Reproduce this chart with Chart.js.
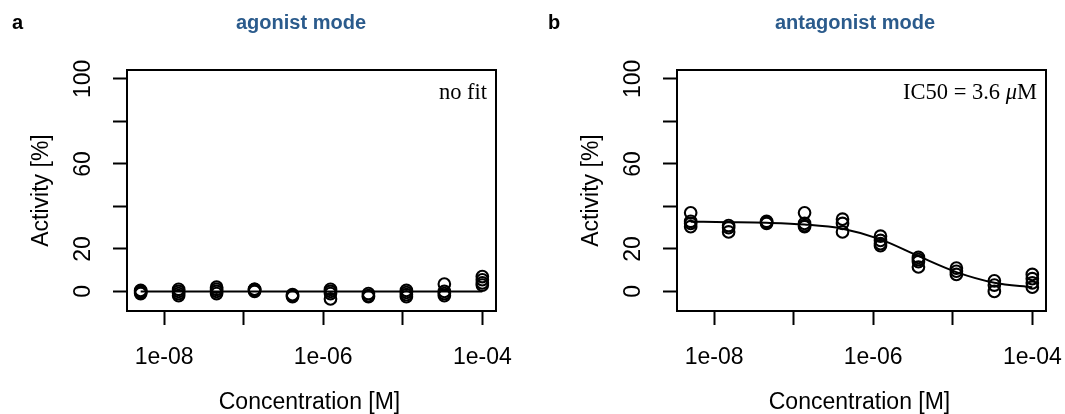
<!DOCTYPE html>
<html>
<head>
<meta charset="utf-8">
<script src="https://cdn.jsdelivr.net/npm/chart.js@4.4.1/dist/chart.umd.min.js"></script>
<style>
html, body { margin: 0; padding: 0; background: #fff; overflow: hidden; }
canvas { position: absolute; top: 0; }
</style>
</head>
<body>
<canvas id="panelA" width="540" height="414" style="left:0px"></canvas>
<canvas id="panelB" width="525" height="414" style="left:540px"></canvas>
<script>
// 3-fold dilution series, molar
var conc = [5.08e-9, 1.524e-8, 4.572e-8, 1.372e-7, 4.115e-7, 1.235e-6, 3.704e-6, 1.111e-5, 3.333e-5, 1.0e-4];

// replicate activities [%] per concentration
var agonistPts = [
  [-1, 0, 0.5, -0.5],
  [1, 0, -1, -2],
  [2, 1, 0, -1],
  [1, 0.5, 0, 1],
  [-2, -2.5, -1.5],
  [1, 0, -1, -3.5],
  [-1, -2, -2.5],
  [0.5, -0.5, -1.5, -2.5],
  [3.5, 0, -1, -2],
  [7, 5.5, 4, 3]
];
var antagonistPts = [
  [37, 33, 32, 30.5],
  [31, 30, 28],
  [33, 32.5, 32],
  [37, 32, 31, 30.5],
  [34, 32, 28],
  [26, 24, 22.5, 21.5],
  [16, 15, 14, 11.5],
  [11, 9.5, 8],
  [5, 3, 0],
  [8, 6, 4, 2]
];

// fitted curves, sampled at the concentrations
var agonistFit = [0, 0, 0, 0, 0, 0, 0, 0, 0, 0];
var antagonistFit = [32.8, 32.6, 32.3, 31.5, 29.5, 24.5, 16.6, 9.1, 4.1, 2.0];

var xTicks = [1e-8, 1e-7, 1e-6, 1e-5, 1e-4];
var xTickLabels = ['1e-08', '', '1e-06', '', '1e-04'];
var yTicks = [0, 20, 40, 60, 80, 100];
var yTickLabels = ['0', '20', '', '60', '', '100'];

var SANS = '"Liberation Sans", Arial, sans-serif';
var SERIF = '"Liberation Serif", "Times New Roman", serif';
var TITLE_BLUE = '#2b5b8c';

function toPoints(reps) {
  var out = [], i, j;
  for (i = 0; i < reps.length; i++) {
    for (j = 0; j < reps[i].length; j++) {
      out.push({ x: conc[i], y: reps[i][j] });
    }
  }
  return out;
}

function toLine(vals) {
  return vals.map(function(v, i) { return { x: conc[i], y: v }; });
}

// box, tick labels, axis titles and annotations
var panelText = {
  id: 'panelText',
  afterDraw: function(chart, args, opts) {
    var ctx = chart.ctx, ca = chart.chartArea;
    var xs = chart.scales.x, ys = chart.scales.y;
    var off = opts.offset, shift = opts.shift;
    ctx.save();
    ctx.strokeStyle = '#000';
    ctx.lineWidth = 2;
    ctx.strokeRect(ca.left, ca.top, ca.right - ca.left, ca.bottom - ca.top);

    ctx.fillStyle = '#000';
    ctx.font = '23px ' + SANS;
    ctx.textAlign = 'center';
    ctx.textBaseline = 'middle';
    xTicks.forEach(function(v, i) {
      if (xTickLabels[i]) ctx.fillText(xTickLabels[i], xs.getPixelForValue(v), 358);
    });
    ctx.fillText('Concentration [M]', (ca.left + ca.right) / 2 - 2, 403);

    yTicks.forEach(function(v, i) {
      if (!yTickLabels[i]) return;
      ctx.save();
      ctx.translate(84 + shift - off, ys.getPixelForValue(v));
      ctx.rotate(-Math.PI / 2);
      ctx.fillText(yTickLabels[i], 0, 0);
      ctx.restore();
    });
    ctx.save();
    ctx.translate(42 + shift - off, (ca.top + ca.bottom) / 2);
    ctx.rotate(-Math.PI / 2);
    ctx.fillText('Activity [%]', 0, 0);
    ctx.restore();

    // panel letter and title
    ctx.font = 'bold 20px ' + SANS;
    ctx.textAlign = 'left';
    ctx.fillText(opts.letter, opts.letterX - off, 23);
    ctx.fillStyle = TITLE_BLUE;
    ctx.textAlign = 'center';
    ctx.fillText(opts.title, opts.titleX - off, 23);

    // annotation, top right inside the box
    ctx.fillStyle = '#000';
    ctx.textBaseline = 'alphabetic';
    ctx.textAlign = 'left';
    var right = ca.right - 9, base = 99;
    var parts = opts.note;
    var total = 0, k;
    for (k = 0; k < parts.length; k++) {
      ctx.font = (parts[k].italic ? 'italic ' : '') + '22.5px ' + SERIF;
      total += ctx.measureText(parts[k].t).width;
    }
    var x = right - total;
    for (k = 0; k < parts.length; k++) {
      ctx.font = (parts[k].italic ? 'italic ' : '') + '22.5px ' + SERIF;
      ctx.fillText(parts[k].t, x, base);
      x += ctx.measureText(parts[k].t).width;
    }
    ctx.restore();
  }
};

function makePanel(id, offset, shift, width, pts, fit, opts) {
  var plotLeft = 127 + shift - offset;
  var plotRight = plotLeft + 369;
  return new Chart(document.getElementById(id), {
    type: 'scatter',
    data: {
      datasets: [
        {
          data: toPoints(pts),
          showLine: false,
          pointStyle: 'circle',
          pointRadius: 5.8,
          pointBorderWidth: 2.1,
          pointBorderColor: '#000',
          pointBackgroundColor: 'rgba(0,0,0,0)'
        },
        {
          type: 'line',
          data: toLine(fit),
          borderColor: '#000',
          borderWidth: 2,
          pointRadius: 0,
          cubicInterpolationMode: 'monotone',
          fill: false
        }
      ]
    },
    options: {
      responsive: false,
      animation: false,
      events: [],
      layout: { padding: { top: 70, right: width - plotRight, left: 0, bottom: 0 } },
      plugins: {
        legend: { display: false },
        tooltip: { enabled: false },
        panelText: {
          offset: offset,
          shift: shift,
          letter: opts.letter,
          letterX: opts.letterX,
          title: opts.title,
          titleX: opts.titleX,
          note: opts.note
        }
      },
      scales: {
        x: {
          type: 'logarithmic',
          min: Math.pow(10, -8.466),
          max: Math.pow(10, -3.828),
          afterBuildTicks: function(s) { s.ticks = xTicks.map(function(v) { return { value: v }; }); },
          afterFit: function(s) { s.height = 103; },
          border: { display: false },
          grid: { drawOnChartArea: false, drawTicks: true, tickLength: 14, tickWidth: 2, tickColor: '#000' },
          ticks: { display: false }
        },
        y: {
          min: -9.2,
          max: 104.2,
          afterBuildTicks: function(s) { s.ticks = yTicks.map(function(v) { return { value: v }; }); },
          afterFit: function(s) { s.width = plotLeft; },
          border: { display: false },
          grid: { drawOnChartArea: false, drawTicks: true, tickLength: 14, tickWidth: 2, tickColor: '#000' },
          ticks: { display: false }
        }
      }
    },
    plugins: [panelText]
  });
}

makePanel('panelA', 0, 0, 540, agonistPts, agonistFit, {
  letter: 'a', letterX: 12, title: 'agonist mode', titleX: 301,
  note: [{ t: 'no fit' }]
});
makePanel('panelB', 540, 550, 525, antagonistPts, antagonistFit, {
  letter: 'b', letterX: 548, title: 'antagonist mode', titleX: 855,
  note: [{ t: 'IC50 = 3.6 ' }, { t: '\u03bc', italic: true }, { t: 'M' }]
});
</script>
</body>
</html>
